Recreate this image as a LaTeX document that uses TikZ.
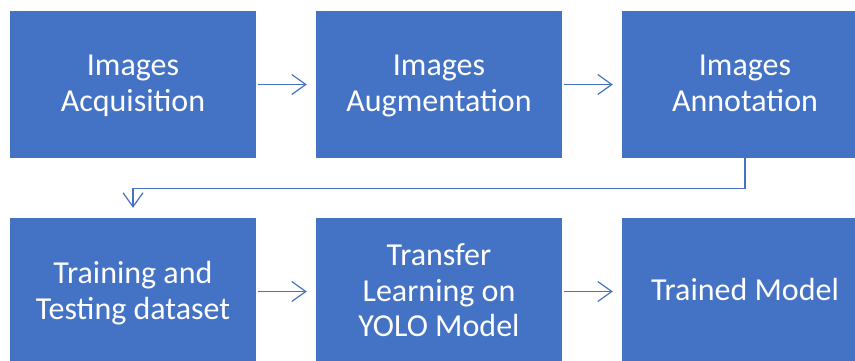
\documentclass[tikz,border=0pt]{standalone}
\usepackage{fontspec}
\setmainfont{Carlito}
\usetikzlibrary{arrows.meta}
\definecolor{boxblue}{HTML}{4472C4}
\newcommand\stagestrut{\rule[-4.5pt]{0pt}{33pt}}
\begin{document}
\begin{tikzpicture}[x=1pt,y=-1pt,
  stage/.style={fill=boxblue, draw=none, minimum width=246pt, minimum height=147pt,
    inner sep=0pt, text=white, align=center, font=\fontsize{32}{35.5}\selectfont,
    execute at begin node=\stagestrut, text depth=2.5pt},
  flow/.style={draw=boxblue, line width=1.2pt, -{Straight Barb[length=14pt,width=20pt,line width=1.2pt]}}]
\useasboundingbox (0,0) rectangle (855,360);
\clip (0,0) rectangle (855,360);
\node[stage] (a) at (133,84.5) {Images\\Acquisition};
\node[stage] (b) at (439,84.5) {Images\\Augmentation};
\node[stage] (c) at (745,84.5) {Images\\Annotation};
\node[stage] (d) at (133,291.5) {Training and\\Testing dataset};
\node[stage] (e) at (439,291.5) {Transfer\\Learning on\\YOLO Model};
\node[stage, text depth=10.5pt] (f) at (745,291.5) {Trained Model};
\draw[flow, shorten <=2pt, shorten >=9pt] (a) -- (b);
\draw[flow, shorten <=2pt, shorten >=9pt] (b) -- (c);
\draw[flow, shorten <=2pt, shorten >=9pt] (d) -- (e);
\draw[flow, shorten <=2pt, shorten >=9pt] (e) -- (f);
\draw[flow, shorten >=10pt] (c.south) -- ++(0,30) -| (d.north);
\end{tikzpicture}
\end{document}
